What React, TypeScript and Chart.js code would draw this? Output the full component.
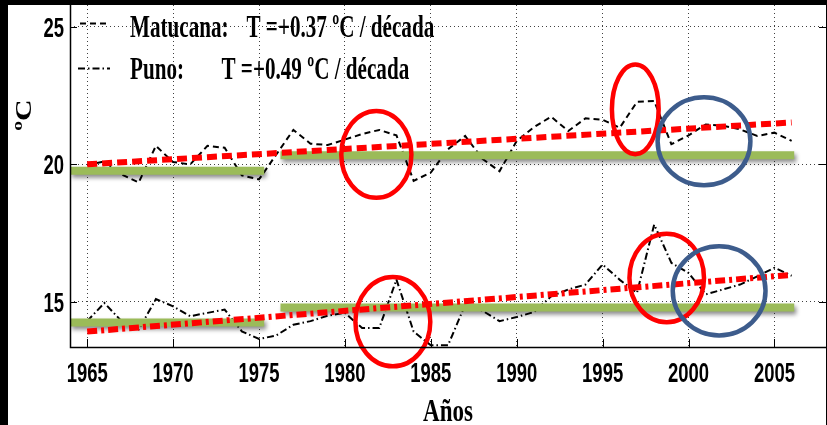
import React, { useEffect, useRef } from 'react';
import { Chart, registerables } from 'chart.js';

Chart.register(...registerables);

// ---------- data ----------
const years = [
  1965, 1966, 1967, 1968, 1969, 1970, 1971, 1972, 1973, 1974, 1975, 1976, 1977, 1978,
  1979, 1980, 1981, 1982, 1983, 1984, 1985, 1986, 1987, 1988, 1989, 1990, 1991, 1992,
  1993, 1994, 1995, 1996, 1997, 1998, 1999, 2000, 2001, 2002, 2003, 2004, 2005, 2006,
];
const matucana = [
  19.98, 20.1, 19.63, 19.34, 20.67, 20.08, 20.0, 20.67, 20.6, 19.6, 19.45, 20.35, 21.25, 20.75,
  20.7, 20.9, 21.1, 21.25, 21.05, 19.4, 19.7, 20.55, 21.03, 20.2, 19.75, 20.85, 21.35, 21.73,
  21.21, 21.67, 21.62, 21.33, 22.27, 22.3, 20.73, 21.05, 21.45, 21.4, 21.27, 21.03, 21.15, 20.85,
];
const puno = [
  14.3, 14.96, 14.3, 14.0, 15.1, 14.84, 14.48, 14.6, 14.72, 13.93, 13.65, 13.78, 14.17, 14.3,
  14.5, 14.6, 14.05, 14.05, 15.81, 13.92, 13.42, 13.42, 14.9, 14.68, 14.3, 14.45, 14.63, 15.2,
  15.45, 15.63, 16.36, 15.8, 15.33, 17.81, 16.42, 16.05, 15.27, 15.45, 15.63, 15.93, 16.24, 15.95,
];
const trendYears = [1965, 2006];
const matucanaTrend = [20.0, 21.52];
const punoTrend = [13.92, 15.98];
const periodA = [1964, 1975.3];
const periodB = [1976.25, 2006.15];
const matucanaMeans = [19.77, 20.33];
const punoMeans = [14.25, 14.8];

const xTicks = [1965, 1970, 1975, 1980, 1985, 1990, 1995, 2000, 2005];
const yTicks = [15, 20, 25];
const xTitle = 'Años';
const yTitle = 'ºC';
const legendNames = ['Matucana:', 'Puno:'];
const legendTrends = ['T =+0.37 ºC / década', 'T =+0.49 ºC / década'];

// annotation ellipses (data units)
const ellipseYears = [1981.83, 1996.9, 2000.9, 1982.79, 1998.73, 2001.78];
const ellipseValues = [20.36, 22.0, 20.84, 14.28, 15.87, 15.4];
const ellipseRx = [2.04, 1.36, 2.7, 2.18, 2.17, 2.7];
const ellipseRy = [1.58, 1.63, 1.6, 1.62, 1.61, 1.62];
const ellipseColors = ['#FF0000', '#FF0000', '#3D5C8C', '#FF0000', '#FF0000', '#3D5C8C'];

// ---------- styles ----------
const GREEN = '#9BBB59';
const RED = '#FF0000';
const MATU_DASH = [6, 4];
const PUNO_DASH = [7, 3, 1.5, 3];
const SERIF = '"Liberation Serif", "Times New Roman", serif';
const SANS = '"Liberation Sans", Arial, sans-serif';

function drawText(
  ctx: CanvasRenderingContext2D,
  text: string,
  x: number,
  y: number,
  font: string,
  sx: number,
  align: CanvasTextAlign,
  baseline: CanvasTextBaseline
) {
  ctx.save();
  ctx.translate(x, y);
  ctx.scale(sx, 1);
  ctx.font = font;
  ctx.textAlign = align;
  ctx.textBaseline = baseline;
  ctx.fillStyle = '#000';
  ctx.fillText(text, 0, 0);
  ctx.restore();
}

const decorPlugin = {
  id: 'decor',
  beforeDraw(chart: any) {
    const { ctx, width, height } = chart;
    ctx.save();
    ctx.fillStyle = '#000';
    ctx.fillRect(0, 0, width, height);
    ctx.fillStyle = '#fff';
    ctx.fillRect(8, 5, width - 9, height - 5);
    ctx.restore();
  },
  beforeDatasetDraw(chart: any, args: any) {
    const ds = chart.data.datasets[args.index];
    if (ds.shadow) {
      const ctx = chart.ctx;
      ctx.save();
      ctx.shadowColor = 'rgba(0,0,0,0.45)';
      ctx.shadowBlur = 4;
      ctx.shadowOffsetX = 2;
      ctx.shadowOffsetY = 3;
    }
  },
  afterDatasetDraw(chart: any, args: any) {
    const ds = chart.data.datasets[args.index];
    if (ds.shadow) chart.ctx.restore();
  },
  afterDatasetsDraw(chart: any) {
    const { ctx } = chart;
    const xs = chart.scales.x;
    const ys = chart.scales.y;
    ctx.save();
    for (let i = 0; i < ellipseYears.length; i++) {
      const cx = xs.getPixelForValue(ellipseYears[i]);
      const cy = ys.getPixelForValue(ellipseValues[i]);
      const rx = Math.abs(xs.getPixelForValue(ellipseYears[i] + ellipseRx[i]) - cx);
      const ry = Math.abs(ys.getPixelForValue(ellipseValues[i] + ellipseRy[i]) - cy);
      ctx.beginPath();
      ctx.ellipse(cx, cy, rx, ry, 0, 0, Math.PI * 2);
      ctx.lineWidth = 4.5;
      ctx.strokeStyle = ellipseColors[i];
      ctx.stroke();
    }
    ctx.restore();
  },
  afterDraw(chart: any) {
    const { ctx, chartArea: a } = chart;
    const xs = chart.scales.x;
    const ys = chart.scales.y;
    ctx.save();
    // axes box
    ctx.strokeStyle = '#000';
    ctx.lineWidth = 1.5;
    ctx.beginPath();
    ctx.moveTo(a.left + 0.5, a.top);
    ctx.lineTo(a.left + 0.5, a.bottom + 0.5);
    ctx.lineTo(chart.width, a.bottom + 0.5);
    ctx.stroke();
    ctx.lineWidth = 1;
    ctx.beginPath();
    ctx.moveTo(a.right + 0.5, a.top);
    ctx.lineTo(a.right + 0.5, a.bottom);
    ctx.stroke();
    // tick marks (inward)
    ctx.lineWidth = 1;
    ctx.beginPath();
    yTicks.forEach((v) => {
      const py = Math.round(ys.getPixelForValue(v)) + 0.5;
      ctx.moveTo(a.left, py);
      ctx.lineTo(a.left + 7, py);
      ctx.moveTo(a.right - 7, py);
      ctx.lineTo(a.right, py);
    });
    xTicks.forEach((v) => {
      const px = Math.round(xs.getPixelForValue(v)) + 0.5;
      ctx.moveTo(px, a.bottom);
      ctx.lineTo(px, a.bottom - 8);
    });
    ctx.stroke();

    // tick labels
    const tickFont = `bold 28px ${SANS}`;
    xTicks.forEach((v) => {
      drawText(ctx, String(v), xs.getPixelForValue(v), 382, tickFont, 0.66, 'center', 'alphabetic');
    });
    yTicks.forEach((v) => {
      drawText(ctx, String(v), 64, ys.getPixelForValue(v) + 10, tickFont, 0.66, 'right', 'alphabetic');
    });

    // axis titles
    drawText(ctx, xTitle, (a.left + a.right) / 2, 421, `bold 32px ${SERIF}`, 0.72, 'center', 'alphabetic');
    ctx.save();
    ctx.translate(25.5, 115);
    ctx.rotate(-Math.PI / 2);
    ctx.scale(1, 0.75);
    ctx.font = `bold 30px ${SERIF}`;
    ctx.textAlign = 'center';
    ctx.textBaseline = 'middle';
    ctx.fillStyle = '#000';
    ctx.fillText(yTitle, 0, 0);
    ctx.restore();

    // legend
    const legFont = `bold 32px ${SERIF}`;
    ctx.lineWidth = 2;
    ctx.strokeStyle = '#000';
    ctx.setLineDash(MATU_DASH);
    ctx.beginPath();
    ctx.moveTo(80, 23.5);
    ctx.lineTo(110, 23.5);
    ctx.stroke();
    ctx.setLineDash(PUNO_DASH);
    ctx.beginPath();
    ctx.moveTo(78, 68.5);
    ctx.lineTo(110, 68.5);
    ctx.stroke();
    ctx.setLineDash([]);
    drawText(ctx, legendNames[0], 130, 37, legFont, 0.66, 'left', 'alphabetic');
    drawText(ctx, legendTrends[0], 246.5, 37, legFont, 0.66, 'left', 'alphabetic');
    drawText(ctx, legendNames[1], 130, 79, legFont, 0.66, 'left', 'alphabetic');
    drawText(ctx, legendTrends[1], 221.5, 79, legFont, 0.66, 'left', 'alphabetic');
    ctx.restore();
  },
};

function pts(xv: number[], yv: number[]) {
  return xv.map((x, i) => ({ x, y: yv[i] }));
}

export default function App() {
  const ref = useRef<HTMLCanvasElement | null>(null);

  useEffect(() => {
    if (!ref.current) return;
    const common = { pointRadius: 0, tension: 0, fill: false, borderCapStyle: 'butt' as const };
    const chart = new Chart(ref.current, {
      type: 'line',
      data: {
        datasets: [
          { ...common, label: 'Tendencia Matucana', data: pts(trendYears, matucanaTrend), borderColor: RED, borderWidth: 6, borderDash: [10, 5] },
          { ...common, label: 'Tendencia Puno', data: pts(trendYears, punoTrend), borderColor: RED, borderWidth: 6, borderDash: [10, 4, 3, 4] },
          { ...common, label: 'Media Matucana A', data: pts(periodA, [matucanaMeans[0], matucanaMeans[0]]), borderColor: GREEN, borderWidth: 8, shadow: true } as any,
          { ...common, label: 'Media Matucana B', data: pts(periodB, [matucanaMeans[1], matucanaMeans[1]]), borderColor: GREEN, borderWidth: 8, shadow: true } as any,
          { ...common, label: 'Media Puno A', data: pts(periodA, [punoMeans[0], punoMeans[0]]), borderColor: GREEN, borderWidth: 8, shadow: true } as any,
          { ...common, label: 'Media Puno B', data: pts(periodB, [punoMeans[1], punoMeans[1]]), borderColor: GREEN, borderWidth: 8, shadow: true } as any,
          { ...common, label: 'Matucana', data: pts(years, matucana), borderColor: '#000', borderWidth: 2, borderDash: MATU_DASH },
          { ...common, label: 'Puno', data: pts(years, puno), borderColor: '#000', borderWidth: 2, borderDash: PUNO_DASH },
        ],
      },
      options: {
        animation: false,
        responsive: false,
        devicePixelRatio: 1,
        layout: { padding: { left: 70, top: 5, right: 1, bottom: 78 } },
        plugins: { legend: { display: false }, tooltip: { enabled: false } },
        scales: {
          x: {
            type: 'linear',
            min: 1964,
            max: 2008,
            afterBuildTicks: (s: any) => { s.ticks = xTicks.map((v) => ({ value: v })); },
            ticks: { display: false },
            grid: { drawTicks: false, color: 'rgba(0,0,0,0.75)', lineWidth: 1 },
            border: { display: false, dash: [1, 3] },
          },
          y: {
            type: 'linear',
            min: 13.36,
            max: 25.79,
            afterBuildTicks: (s: any) => { s.ticks = yTicks.map((v) => ({ value: v })); },
            ticks: { display: false },
            grid: { drawTicks: false, color: 'rgba(0,0,0,0.75)', lineWidth: 1 },
            border: { display: false, dash: [1, 3] },
          },
        },
      },
      plugins: [decorPlugin],
    });
    return () => chart.destroy();
  }, []);

  return (
    <div style={{ position: 'fixed', left: 0, top: 0, width: 827, height: 425 }}>
      <canvas ref={ref} width={827} height={425} style={{ display: 'block', width: 827, height: 425 }} />
    </div>
  );
}
